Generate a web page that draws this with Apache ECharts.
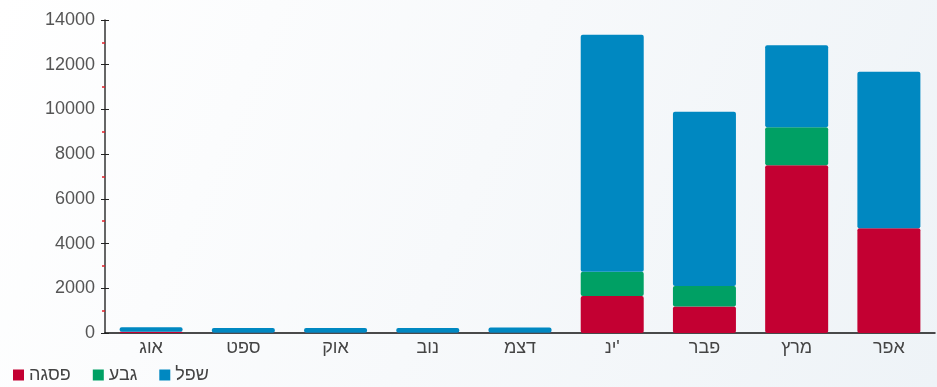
<!DOCTYPE html>
<html><head><meta charset="utf-8">
<script src="https://cdn.jsdelivr.net/npm/echarts@6/dist/echarts.min.js"></script>
<style>html,body{margin:0;padding:0;}#c{width:937px;height:387px;}</style>
</head><body><div id="c"></div>
<script>
const categories = ['אוג','ספט','אוק','נוב','דצמ',"ינ'",'פבר','מרץ','אפר'];
const pisga = [60, 10, 10, 10, 15, 1650, 1180, 7500, 4680];
const geva  = [0, 0, 0, 0, 0, 1090, 920, 1700, 0];
const shefel = [200, 210, 210, 210, 230, 10600, 7800, 3670, 7000];
const yTicks = [0, 2000, 4000, 6000, 8000, 10000, 12000, 14000];
const seriesNames = ['פסגה','גבע','שפל'];
const colors = ['#c30032','#00a064','#0088c1'];

const font = "'Liberation Sans', Arial, sans-serif";
const chart = echarts.init(document.getElementById('c'));
const mk = (name, data, color) => ({
  name, type: 'bar', stack: 'a', data, barWidth: 63,
  itemStyle: { color, borderRadius: 2 }
});
chart.setOption({
  animation: false,
  backgroundColor: new echarts.graphic.LinearGradient(0, 0, 1, 1, [
    { offset: 0, color: '#ffffff' }, { offset: 0.5, color: '#f7f9fb' }, { offset: 1, color: '#eef3f7' }
  ]),
  textStyle: { fontFamily: font },
  grid: { left: 105, right: 2, top: 20, bottom: 54 },
  legend: {
    left: 8, top: 361, itemWidth: 11, itemHeight: 11, itemGap: 22,
    icon: 'rect', data: seriesNames,
    textStyle: { fontSize: 18, color: '#444', fontFamily: font }
  },
  xAxis: {
    type: 'category', data: categories,
    axisLine: { lineStyle: { color: '#111', width: 1.5 } },
    axisTick: { alignWithLabel: true, length: 4, lineStyle: { color: '#222' } },
    axisLabel: { fontSize: 18, color: '#444', margin: 6, fontFamily: font }
  },
  yAxis: [{
    type: 'value', min: yTicks[0], max: yTicks[yTicks.length - 1], interval: 2000,
    axisLine: { show: true, lineStyle: { color: '#333', width: 1.5 } },
    axisTick: { show: true, length: 4, lineStyle: { color: '#222' } },
    minorTick: { show: true, splitNumber: 2, length: 3, lineStyle: { color: '#e0202a', width: 1.5 } },
    splitLine: { show: false },
    axisLabel: { fontSize: 18, color: '#555', margin: 10, fontFamily: font, formatter: v => String(v) }
  }, {
    type: 'value', position: 'left', min: yTicks[0], max: yTicks[yTicks.length - 1], interval: 2000,
    axisLine: { show: false },
    axisTick: { show: true, inside: true, length: 4, lineStyle: { color: '#222' } },
    axisLabel: { show: false }, splitLine: { show: false }
  }],
  series: [
    mk(seriesNames[0], pisga, colors[0]),
    mk(seriesNames[1], geva, colors[1]),
    mk(seriesNames[2], shefel, colors[2])
  ]
});
</script></body></html>
